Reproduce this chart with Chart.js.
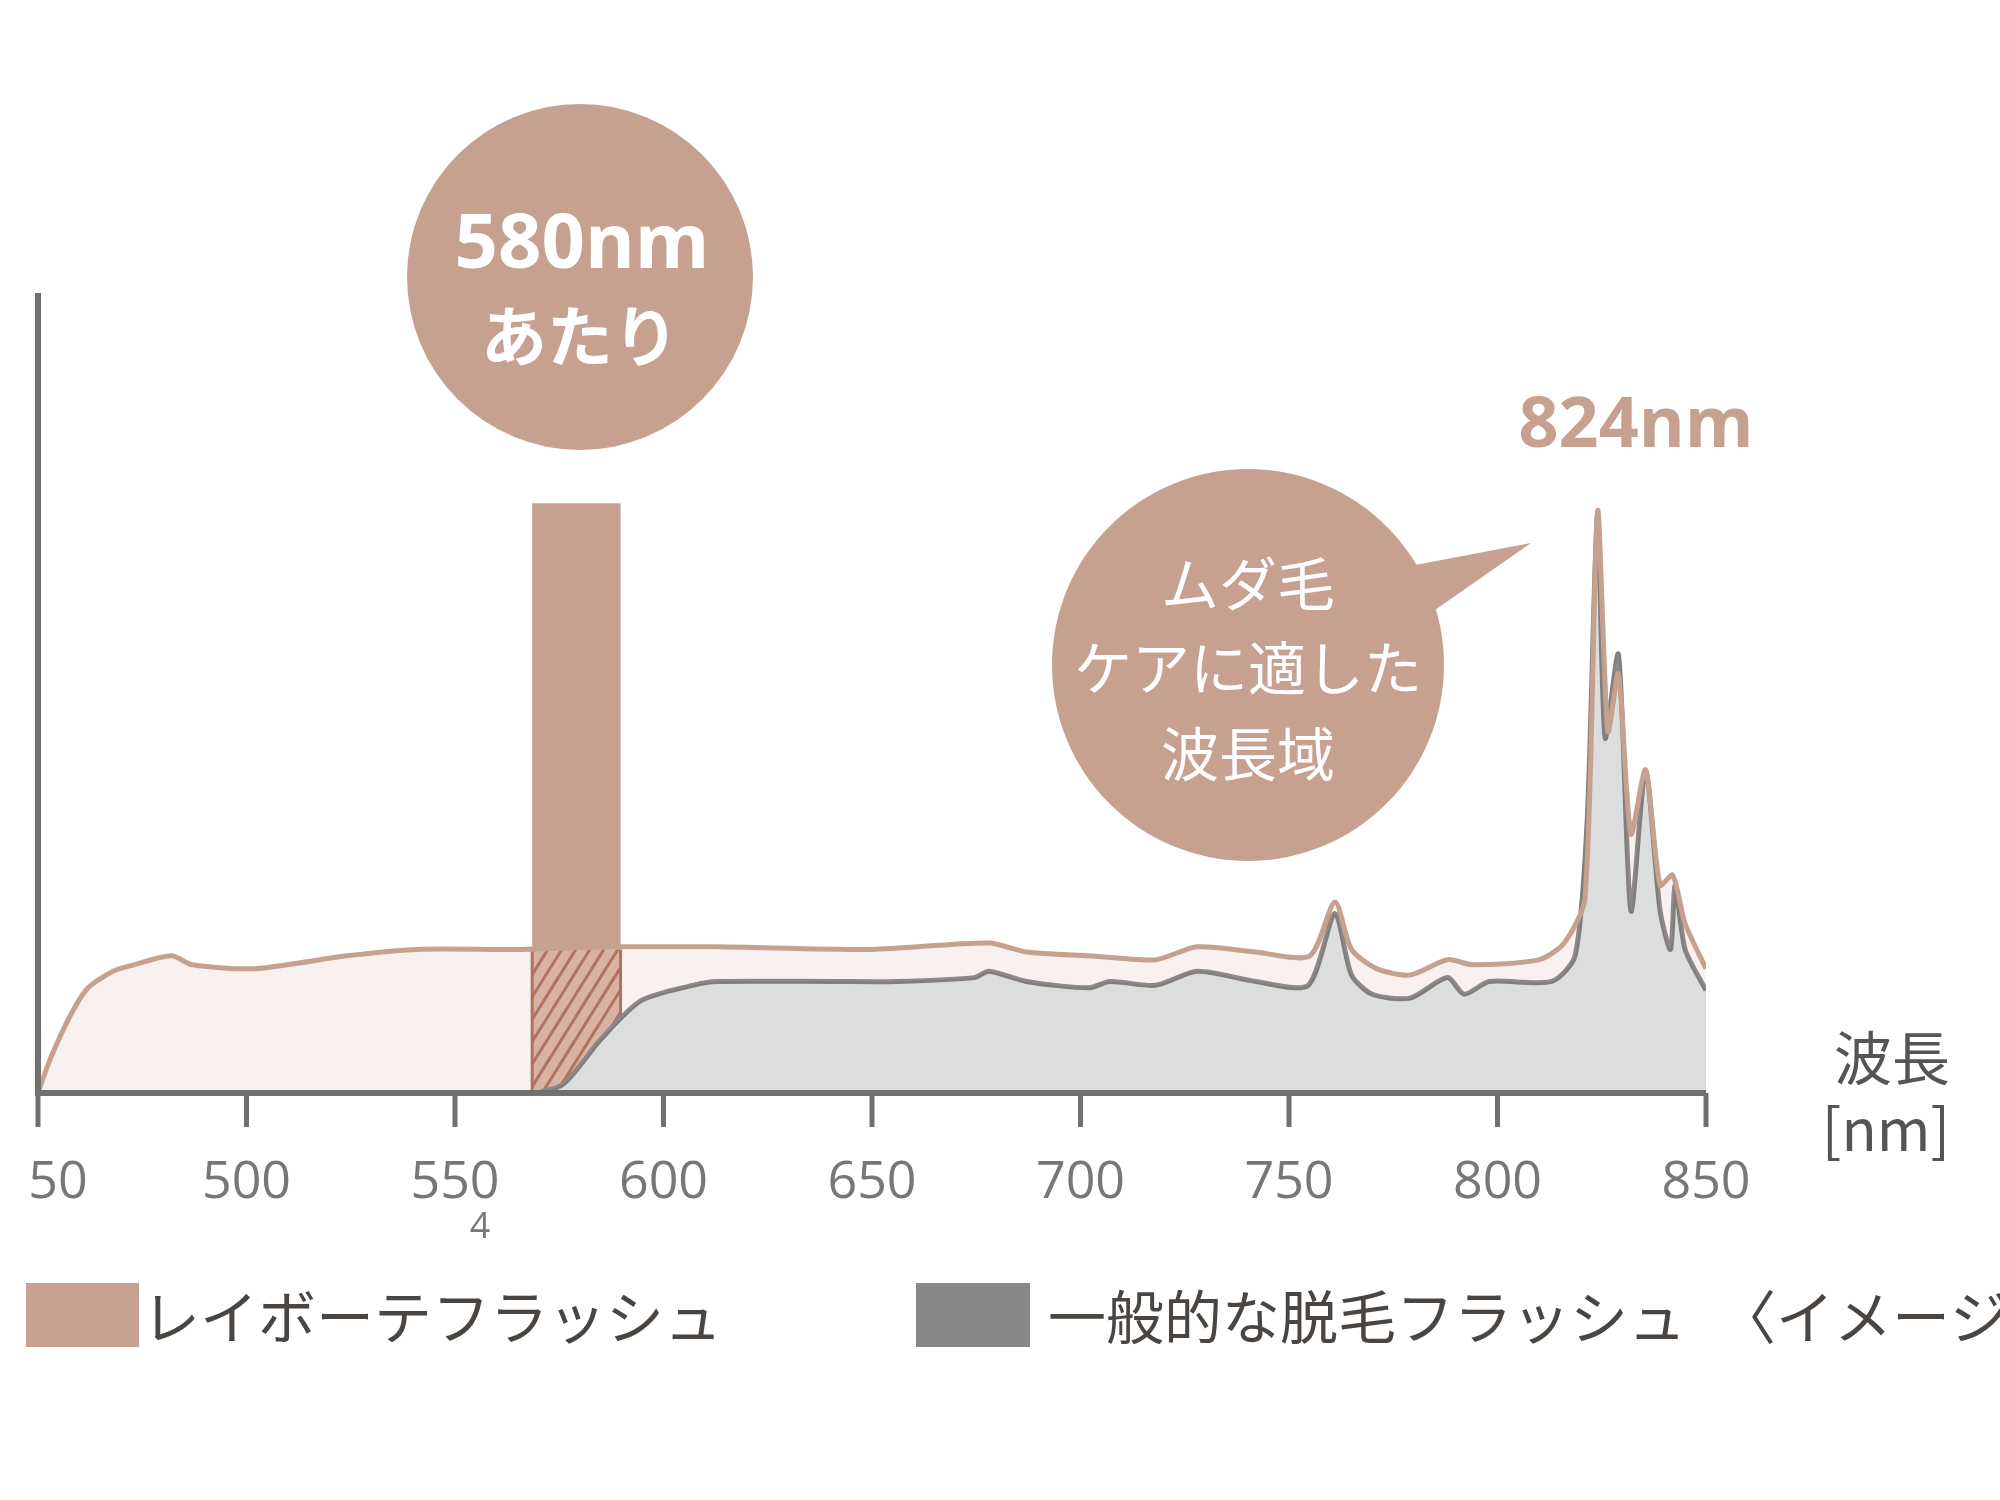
<!DOCTYPE html>
<html>
<head>
<meta charset="utf-8">
<script src="https://cdn.jsdelivr.net/npm/chart.js@4"></script>
<style>
  html, body { margin: 0; padding: 0; background: #fff; }
  #wrap { width: 2000px; height: 1500px; }
</style>
</head>
<body>
<div id="wrap"><canvas id="c" width="2000" height="1500"></canvas></div>
<script>
// wavelength (nm) / relative intensity
const pinkX = [450, 453, 458, 462, 468, 473, 482, 487, 502, 524, 541, 564, 588, 613, 650, 678, 687, 702, 718, 728, 742, 755, 761, 765, 771, 779, 788, 794, 810, 816, 821, 824, 826.5, 829, 832, 835.5, 839, 842, 845, 850];
const pinkY = [0, 27, 62, 82, 95, 100, 107, 100, 97, 107, 112, 112, 114, 114, 112, 117, 110, 107, 104, 114, 110, 107, 149, 112, 97, 92, 104, 100, 104, 117, 152, 454, 282, 327, 202, 252, 162, 170, 132, 97];
const grayX = [450, 500, 540, 568.5, 576, 585, 594.6, 607, 613, 641, 656, 674.6, 678, 687, 702, 707, 718, 728, 742, 754.6, 761, 765, 770, 779, 788, 792, 798, 813, 818.6, 821.5, 824, 825.8, 829, 832, 835.5, 839, 841.5, 842.6, 845, 850];
const grayY = [0, 0, 0, 0, 7, 42, 72, 84, 87, 87, 87, 90, 95, 87, 82, 87, 84, 95, 87, 84, 140, 92, 77, 74, 90, 77, 87, 87, 107, 212, 452, 277, 342, 142, 252, 142, 112, 162, 112, 80];
const tickValues = [450, 500, 550, 600, 650, 700, 750, 800, 850];
const tickLabels = ['50', '500', '550', '600', '650', '700', '750', '800', '850'];
const bandFrom = 568.5, bandTo = 589.7, bandTop = 460, bandHatchTop = 112;

const PINK = '#c6a190';
const GRAY = '#7f7f7f';
const JP = '"Noto Sans CJK JP", "Noto Sans", sans-serif';

const decor = {
  id: 'decor',
  beforeDatasetsDraw(chart) {
    const { ctx, scales: { x, y } } = chart;
    const x0 = x.getPixelForValue(bandFrom), x1 = x.getPixelForValue(bandTo);
    const yt = y.getPixelForValue(bandTop), yh = y.getPixelForValue(bandHatchTop), yb = y.getPixelForValue(0);
    ctx.save();
    ctx.fillStyle = PINK;
    ctx.fillRect(x0, yt, x1 - x0, yh - yt);
    ctx.fillStyle = '#d8b4a4';
    ctx.fillRect(x0, yh, x1 - x0, yb - yh);
    ctx.beginPath();
    ctx.rect(x0, yh, x1 - x0, yb - yh);
    ctx.clip();
    ctx.strokeStyle = '#a86450';
    ctx.lineWidth = 3;
    for (let k = -200; k < 300; k += 14) {
      ctx.beginPath();
      ctx.moveTo(x0 + k, yb);
      ctx.lineTo(x0 + k + 150, yb - 150 * 1.6);
      ctx.stroke();
    }
    ctx.restore();
    ctx.save();
    ctx.strokeStyle = '#a86450';
    ctx.lineWidth = 3;
    ctx.beginPath();
    ctx.moveTo(x0, yh); ctx.lineTo(x0, yb);
    ctx.moveTo(x1, yh); ctx.lineTo(x1, yb - 60);
    ctx.stroke();
    ctx.restore();
  },
  afterDatasetsDraw(chart) {
    const { ctx, chartArea: a, scales: { x, y } } = chart;
    ctx.save();
    // axes
    ctx.strokeStyle = '#707070';
    ctx.lineWidth = 6;
    ctx.beginPath();
    ctx.moveTo(a.left, y.getPixelForValue(y.max)); ctx.lineTo(a.left, a.bottom);
    ctx.lineTo(a.right, a.bottom);
    ctx.stroke();
    ctx.lineWidth = 5;
    ctx.fillStyle = '#777';
    ctx.font = '52px "Open Sans", sans-serif';
    ctx.textAlign = 'center';
    ctx.textBaseline = 'middle';
    tickValues.forEach((v, i) => {
      const px = x.getPixelForValue(v);
      ctx.beginPath();
      ctx.moveTo(px, a.bottom); ctx.lineTo(px, a.bottom + 34);
      ctx.stroke();
      ctx.fillText(tickLabels[i], i === 0 ? px + 20 : px, 1183);
    });
    ctx.font = '36px "Open Sans", sans-serif';
    ctx.fillText('4', x.getPixelForValue(556), 1228);

    // axis title
    ctx.fillStyle = '#555';
    ctx.font = '58px ' + JP;
    ctx.fillText('波長', 1892, 1058);
    ctx.fillText('[nm]', 1886, 1129);

    // 580nm bubble
    ctx.fillStyle = PINK;
    ctx.beginPath(); ctx.arc(580, 277, 173, 0, Math.PI * 2); ctx.fill();
    ctx.fillStyle = '#fff';
    ctx.font = 'bold 76px "Open Sans", sans-serif';
    ctx.fillText('580nm', 582, 246);
    ctx.font = 'bold 66px ' + JP;
    ctx.fillText('あたり', 580, 336);

    // wavelength bubble with tail
    ctx.fillStyle = PINK;
    ctx.beginPath(); ctx.arc(1248, 665, 196, 0, Math.PI * 2); ctx.fill();
    ctx.beginPath();
    ctx.moveTo(1410, 566); ctx.lineTo(1531, 543); ctx.lineTo(1435, 610);
    ctx.closePath(); ctx.fill();
    ctx.fillStyle = '#fff';
    ctx.font = '58px ' + JP;
    ctx.fillText('ムダ毛', 1248, 584);
    ctx.fillText('ケアに適した', 1248, 668);
    ctx.fillText('波長域', 1248, 754);

    ctx.fillStyle = PINK;
    ctx.font = 'bold 70px "Open Sans", sans-serif';
    ctx.fillText('824nm', 1636, 427);

    // legend
    ctx.textAlign = 'left';
    ctx.fillStyle = PINK;
    ctx.fillRect(26, 1283, 113, 64);
    ctx.fillStyle = '#888';
    ctx.fillRect(916, 1283, 114, 64);
    ctx.fillStyle = '#4a4540';
    ctx.font = '58px ' + JP;
    ctx.fillText('レイボーテフラッシュ', 142, 1317);
    ctx.fillText('一般的な脱毛フラッシュ', 1048, 1317);
    ctx.fillText('〈イメージ〉', 1718, 1317);
    ctx.restore();
  }
};

new Chart(document.getElementById('c'), {
  type: 'line',
  data: {
    datasets: [
      {
        label: 'レイボーテフラッシュ',
        data: pinkX.map((v, i) => ({ x: v, y: pinkY[i] })),
        borderColor: PINK,
        borderWidth: 5,
        backgroundColor: 'rgba(214, 180, 165, 0.18)',
        fill: '+1',
        pointRadius: 0,
        tension: 0.25,
      },
      {
        label: '一般的な脱毛フラッシュ',
        data: grayX.map((v, i) => ({ x: v, y: grayY[i] })),
        borderColor: GRAY,
        borderWidth: 5,
        backgroundColor: '#dcdedd',
        fill: 'origin',
        pointRadius: 0,
        tension: 0.25,
      },
    ],
  },
  options: {
    responsive: false,
    animation: false,
    layout: { padding: { left: 38, right: 294, top: 293, bottom: 407 } },
    plugins: { legend: { display: false }, tooltip: { enabled: false } },
    scales: {
      x: { type: 'linear', min: 450, max: 850, display: false },
      y: { min: 0, max: 624, display: false },
    },
  },
  plugins: [decor],
});
</script>
</body>
</html>
